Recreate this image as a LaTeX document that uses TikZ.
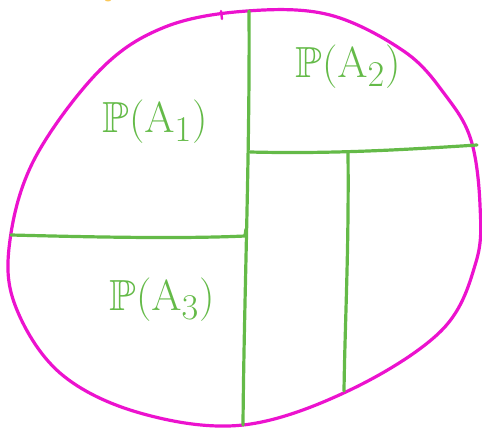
\documentclass[tikz,border=0pt]{standalone}
\usepackage{amssymb}
\definecolor{inkgreen}{RGB}{100,186,72}
\definecolor{inkmagenta}{RGB}{236,18,206}
\definecolor{inkyellow}{RGB}{250,200,90}
\tikzset{
  outline/.style={inkmagenta, line width=3.2pt, line cap=round, line join=round},
  cut/.style={inkgreen, line width=3.2pt, line cap=round, line join=round},
  prob/.style={inkgreen, font=\Huge, scale=1.75},
}
\begin{document}
\begin{tikzpicture}[x=1pt, y=-1pt]
\useasboundingbox (0,0) rectangle (482,428);
% sample space
\draw[outline] plot[smooth cycle, tension=0.6] coordinates {
  (247,11) (330,15) (405,52) (446,96) (471,140) (480,205) (476,262) (442,330)
  (350,390) (243,425) (140,413) (60,373) (15,305) (10,240) (35,158)
  (100,70) (165,27)};
\draw[outline, line width=2.4pt] (221,11) -- (222,19);
\fill[inkyellow] (108,0) ellipse (3pt and 1.5pt);
% partition
\coordinate (top) at (249,11);
\coordinate (bot) at (243,425);
\coordinate (midL) at (11,235);
\coordinate (midR) at (245,236);
\coordinate (upL) at (250,152);
\coordinate (upR) at (477,145);
\coordinate (inT) at (348,152);
\coordinate (inB) at (344,391);
\draw[cut] (top) .. controls (250,150) and (244,300) .. (bot);
\draw[cut] (upL) .. controls (330,154) and (400,150) .. (upR);
\draw[cut] (inT) .. controls (349,250) and (345,320) .. (inB);
\draw[cut] (midL) .. controls (90,237) and (180,239) .. (midR) -- (246,229);
% labels
\node[prob] (a1) at (155,122) {$\mathbb{P}(\mathrm{A}_1)$};
\node[prob] (a2) at (348,67) {$\mathbb{P}(\mathrm{A}_2)$};
\node[prob] (a3) at (162,300) {$\mathbb{P}(\mathrm{A}_3)$};
\end{tikzpicture}
\end{document}
